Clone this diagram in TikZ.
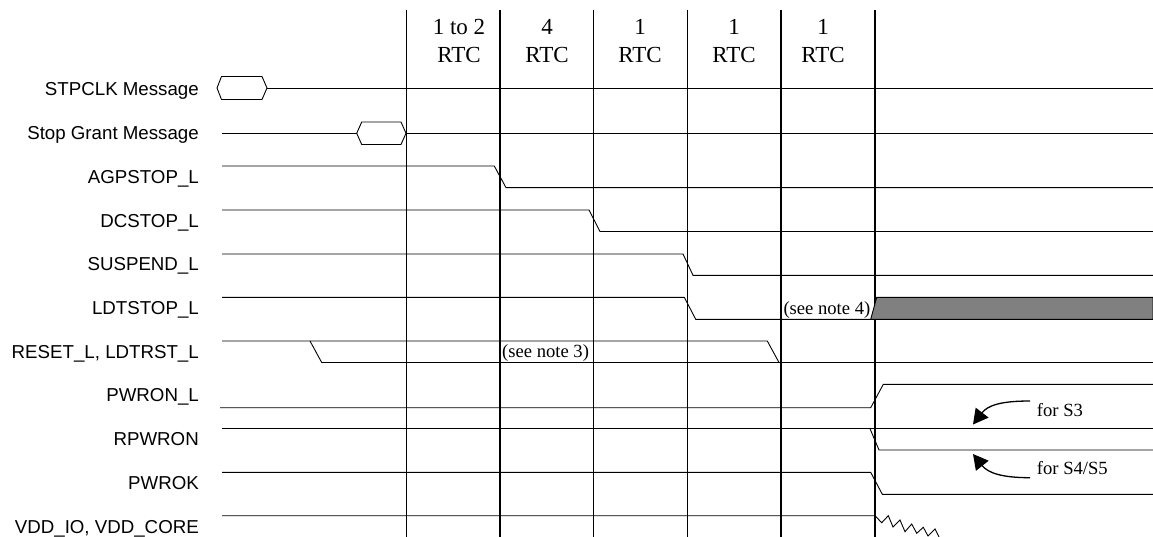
\documentclass[tikz,border=0pt]{standalone}
\usepackage{fontspec}
\setmainfont{Liberation Serif}
\newfontfamily\sansf{Liberation Sans}
\usetikzlibrary{arrows.meta}
\newcommand\labfont{\sansf\fontsize{18.7}{22}\selectfont}
\newcommand\hdrfont{\fontsize{23}{27}\selectfont}
\newcommand\notefont{\fontsize{18.6}{22}\selectfont}
\tikzset{
  sig/.style={line width=0.9pt, line join=miter},
  gridline/.style={line width=1.5pt},
  lab/.style={anchor=base east, inner sep=0pt, font=\labfont},
  hdr/.style={anchor=base, inner sep=0pt, font=\hdrfont},
  note/.style={anchor=base west, inner sep=0pt, font=\notefont},
  curvearrow/.style={line width=1.3pt, -{Triangle[length=15pt,width=16pt]}},
}
\begin{document}
\begin{tikzpicture}[x=1pt,y=-1pt]
\useasboundingbox (0,0) rectangle (1153,537);
% grid lines
\foreach \gx in {406.5,500,593.5,687.5,781,875}
  \draw[gridline] (\gx,10) -- (\gx,537);
% header
\node[hdr] (h1a) at (459,35) {1 to 2};
\node[hdr] (h1b) at (459,62.7) {RTC};
\node[hdr] (h2a) at (547,35) {4};
\node[hdr] (h2b) at (547,62.7) {RTC};
\node[hdr] (h3a) at (640,35) {1};
\node[hdr] (h3b) at (640,62.7) {RTC};
\node[hdr] (h4a) at (734,35) {1};
\node[hdr] (h4b) at (734,62.7) {RTC};
\node[hdr] (h5a) at (823,35) {1};
\node[hdr] (h5b) at (823,62.7) {RTC};
% labels
\node[lab] (l1) at (199,96) {STPCLK Message};
\node[lab] (l2) at (199,139.7) {Stop Grant Message};
\node[lab] (l3) at (199,183.4) {AGPSTOP\_L};
\node[lab] (l4) at (199,227.1) {DCSTOP\_L};
\node[lab] (l5) at (199,270.8) {SUSPEND\_L};
\node[lab] (l6) at (199,314.5) {LDTSTOP\_L};
\node[lab] (l7) at (199,358.2) {RESET\_L, LDTRST\_L};
\node[lab] (l8) at (199,401.9) {PWRON\_L};
\node[lab] (l9) at (199,445.6) {RPWRON};
\node[lab] (l10) at (199,489.3) {PWROK};
\node[lab] (l11) at (199,533) {VDD\_IO, VDD\_CORE};
% STPCLK
\draw[sig] (217,88) -- (221.5,76.5) -- (262,76.5) -- (267,88) -- (262,99.5) -- (221.5,99.5) -- cycle;
\draw[sig] (267,88) -- (1153,88);
% Stop Grant
\draw[sig] (222,133.3) -- (356.7,133.3);
\draw[sig] (356.7,133.3) -- (361.7,122) -- (401,122) -- (406,133.3) -- (401,144.5) -- (361.7,144.5) -- cycle;
\draw[sig] (406,133.3) -- (1153,133.3);
% AGPSTOP
\draw[sig] (222,166) -- (494.3,166) -- (506,187.7) -- (1153,187.7);
% DCSTOP
\draw[sig] (222,210) -- (589,210) -- (600,231.5) -- (1153,231.5);
% SUSPEND
\draw[sig] (222,254) -- (683,254) -- (693,275.3) -- (1153,275.3);
% LDTSTOP
\draw[sig] (222,297.3) -- (684.3,297.3) -- (695.7,319.3) -- (870.7,319.3);
\draw[sig, fill=black!50] (870.7,319.3) -- (876.7,297.3) -- (1153,297.3) -- (1153,319.3) -- cycle;
\node[note] (n4) at (783.3,314) {(see note 4)};
% RESET / LDTRST
\draw[sig] (222,341) -- (767.3,341) -- (779,362.5);
\draw[sig] (310,341) -- (321.7,362.5) -- (1153,362.5);
\draw[line width=1.6pt] (749,362.5) -- (779,362.5);
\node[note] (n3) at (502,357.5) {(see note 3)};
% PWRON_L
\draw[sig] (220,407.7) -- (870.7,407.7) -- (883.3,384.3) -- (1153,384.3);
% RPWRON
\draw[sig] (222,428.7) -- (1153,428.7);
\draw[sig] (870,428.7) -- (879,450) -- (1153,450);
% PWROK
\draw[sig] (222,472.3) -- (870.7,472.3) -- (882.3,494.3) -- (1153,494.3);
% VDD
\draw[sig] (222,515.7) -- (875,515.7) -- (881.7,522.7) -- (888.3,515.7) -- (893,527) -- (900,520) -- (905,531.7) -- (911.7,524) -- (916.7,533.3) -- (923.3,527.3) -- (928,536) -- (935,529) -- (939,537);
% annotations
\node[note] (s3) at (1036.7,416.5) {for S3};
\node[note] (s45) at (1036.7,474.5) {for S4/S5};
\coordinate (a3s) at (1030,401);
\coordinate (a3e) at (973,424.5);
\coordinate (a45s) at (1030,477.7);
\coordinate (a45e) at (973,454);
\draw[curvearrow] (a3s) .. controls (1002,401) and (988,405) .. (a3e);
\draw[curvearrow] (a45s) .. controls (1002,477.7) and (988,473) .. (a45e);
\end{tikzpicture}
\end{document}
